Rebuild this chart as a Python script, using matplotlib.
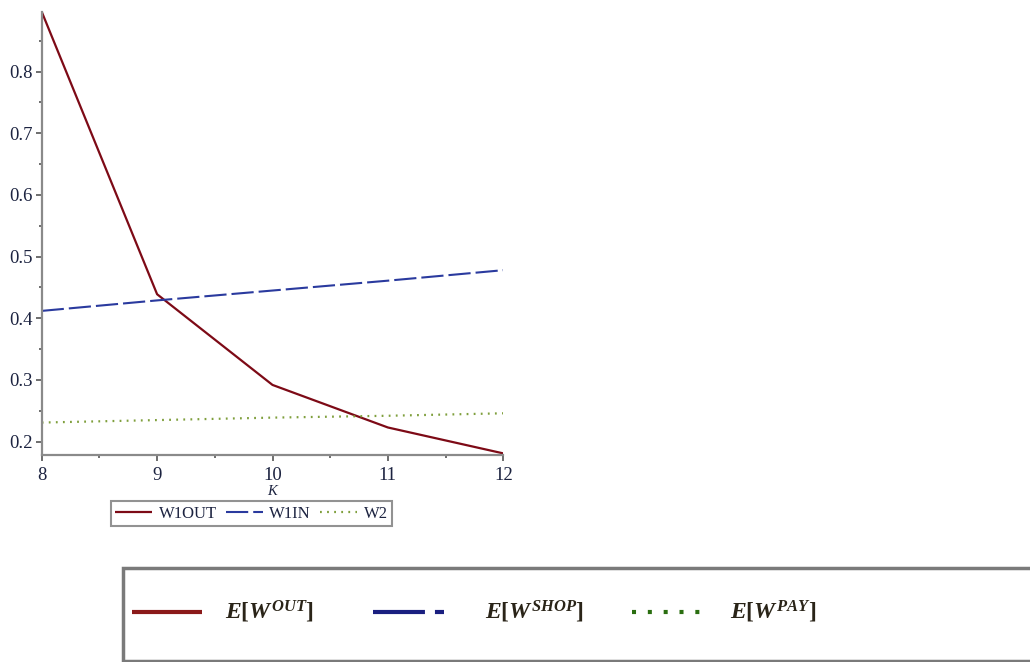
import matplotlib
matplotlib.use("Agg")
import matplotlib.pyplot as plt
from matplotlib.lines import Line2D
from matplotlib.patches import Rectangle
from matplotlib.ticker import MultipleLocator

plt.rcParams['lines.scale_dashes'] = False
plt.rcParams['font.family'] = ['Liberation Serif', 'DejaVu Serif']
plt.rcParams['mathtext.fontset'] = 'custom'
plt.rcParams['mathtext.it'] = 'Liberation Serif:italic:bold'
plt.rcParams['mathtext.rm'] = 'Liberation Serif:bold'

# Data
K = [8, 9, 10, 11, 12]
w1out = [0.897, 0.439, 0.292, 0.223, 0.181]
w1in = [0.412, 0.429, 0.445, 0.461, 0.478]
w2 = [0.231, 0.235, 0.239, 0.242, 0.246]
series_labels = ["W1OUT", "W1IN", "W2"]
summary_labels = [r"$E[W^{OUT}]$", r"$E[W^{SHOP}]$", r"$E[W^{PAY}]$"]

RED = "#7d0a16"
BLUE = "#2a3a9e"
GREEN = "#7f9f3c"
GRAY = "#8a8a8a"
TXT = "#1c2340"

fig = plt.figure(figsize=(10.30, 6.62), dpi=100)
W, H = 1030, 662


def fx(px):
    return px / W


def fy(py):
    return (H - py) / H


ax = fig.add_axes([fx(41.7), fy(455), (503.3 - 41.7) / W, (455 - 11.7) / H])

l1, = ax.plot(K, w1out, color=RED, lw=1.6, solid_capstyle='butt')
l2, = ax.plot(K, w1in, color=BLUE, lw=1.5, linestyle=(0, (16, 3.6)))
l3, = ax.plot(K, w2, color=GREEN, lw=1.6, linestyle=(0, (1.3, 3.8)))

ax.set_xlim(8, 12)
ax.set_ylim(0.1784, 0.897)
ax.set_xticks([8, 9, 10, 11, 12])
ax.set_yticks([0.2, 0.3, 0.4, 0.5, 0.6, 0.7, 0.8])
ax.xaxis.set_minor_locator(MultipleLocator(0.5))
ax.yaxis.set_minor_locator(MultipleLocator(0.05))
for s in ['top', 'right']:
    ax.spines[s].set_visible(False)
for s in ['left', 'bottom']:
    ax.spines[s].set_color(GRAY)
    ax.spines[s].set_linewidth(1.6)
ax.tick_params(which='major', direction='out', length=4.5, width=1.2, color='#555555',
               labelsize=13.5, labelcolor=TXT)
ax.tick_params(axis='x', which='major', pad=4)
ax.tick_params(axis='y', which='major', pad=2)
ax.tick_params(which='minor', direction='out', length=2.5, width=1.2, color='#555555')
ax.set_xlabel("K", fontstyle='italic', fontsize=10.5, color=TXT, labelpad=1)

leg = ax.legend([l1, l2, l3], series_labels, ncol=3, loc='center',
                bbox_to_anchor=(fx(251.5), fy(513.5)), bbox_transform=fig.transFigure,
                fontsize=12, handlelength=2.2, handletextpad=0.4, columnspacing=0.55,
                borderpad=0.25, borderaxespad=0, fancybox=False, frameon=True,
                labelcolor=TXT)
leg.get_frame().set_edgecolor('#777777')
leg.get_frame().set_linewidth(1.5)

# Summary key box along the bottom
fig.patches.append(Rectangle((fx(123), fy(661)), (1040 - 123) / W, (661 - 568) / H,
                             transform=fig.transFigure, facecolor='white',
                             edgecolor='#7a7a7a', linewidth=2.5))

key_y = fy(612)
key_styles = [
    dict(color="#8b1a1a", lw=3.0, solid_capstyle='butt', linestyle='-'),
    dict(color="#1a1f80", lw=3.0, linestyle=(0, (37.4, 7.2)), dash_capstyle='butt'),
    dict(color="#2a6e10", lw=3.0, linestyle=(0, (2.9, 8.5)), dash_capstyle='butt'),
]
key_spans = [(132, 202), (373, 444), (632, 700)]
text_x = [225, 485, 730]
for style, (x0, x1), tx, lab in zip(key_styles, key_spans, text_x, summary_labels):
    fig.add_artist(Line2D([fx(x0), fx(x1)], [key_y, key_y], transform=fig.transFigure, **style))
    fig.text(fx(tx), key_y, lab, fontsize=17, color='#2a2418', ha='left', va='center')

fig.savefig("out.png", dpi=100)
